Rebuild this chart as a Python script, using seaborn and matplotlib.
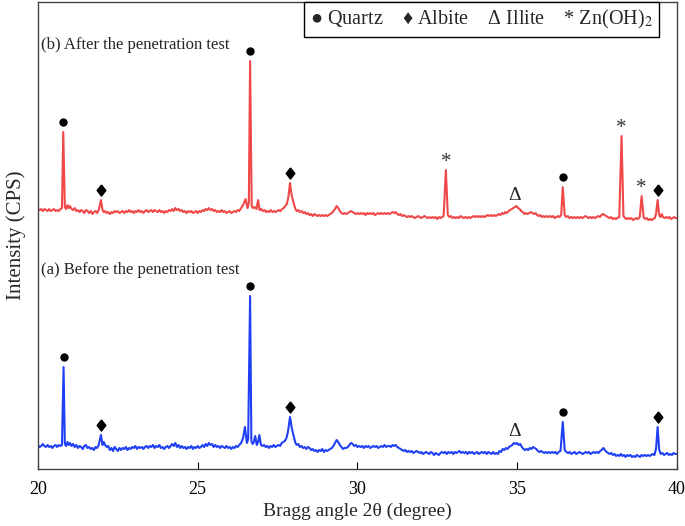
import pandas as pd
import matplotlib
matplotlib.use('Agg')
import matplotlib.pyplot as plt
import seaborn as sns

# Diffractogramme (a) avant l'essai de penetration : (2theta, intensite brute)
before_scan = [
    (20.00, 24), (20.05, 22), (20.10, 23), (20.15, 25), (20.20, 23), (20.25, 22), (20.30, 24), (20.35, 22),
    (20.40, 23), (20.45, 21), (20.50, 23), (20.55, 24), (20.60, 22), (20.65, 24), (20.70, 23), (20.75, 24),
    (20.80, 102), (20.84, 25), (20.88, 23), (20.92, 27), (20.96, 24), (21.00, 26), (21.05, 23), (21.10, 25),
    (21.15, 22), (21.20, 24), (21.25, 21), (21.30, 23), (21.35, 22), (21.40, 20), (21.45, 23), (21.50, 24),
    (21.55, 21), (21.60, 22), (21.65, 20), (21.70, 21), (21.75, 19), (21.80, 22), (21.85, 21), (21.90, 24),
    (21.97, 34), (22.02, 24), (22.06, 27), (22.10, 24), (22.15, 22), (22.20, 23), (22.25, 19), (22.30, 21),
    (22.35, 18), (22.40, 22), (22.45, 20), (22.50, 18), (22.55, 21), (22.60, 19), (22.65, 21), (22.70, 20),
    (22.75, 22), (22.80, 19), (22.85, 21), (22.90, 20), (22.95, 22), (23.00, 21), (23.05, 23), (23.10, 20),
    (23.15, 22), (23.20, 21), (23.25, 22), (23.30, 20), (23.35, 22), (23.40, 23), (23.45, 21), (23.50, 23),
    (23.55, 22), (23.60, 24), (23.65, 21), (23.70, 23), (23.75, 22), (23.80, 24), (23.85, 21), (23.90, 22),
    (23.95, 20), (24.00, 22), (24.05, 23), (24.10, 21), (24.15, 23), (24.20, 25), (24.25, 23), (24.30, 26),
    (24.35, 22), (24.40, 24), (24.45, 21), (24.50, 23), (24.55, 21), (24.60, 22), (24.65, 20), (24.70, 22),
    (24.75, 21), (24.80, 23), (24.85, 20), (24.90, 22), (24.95, 21), (25.00, 23), (25.05, 21), (25.10, 22),
    (25.15, 24), (25.20, 22), (25.25, 25), (25.30, 23), (25.35, 26), (25.40, 24), (25.45, 25), (25.50, 22),
    (25.55, 24), (25.60, 22), (25.65, 23), (25.70, 21), (25.75, 23), (25.80, 22), (25.85, 21), (25.90, 23),
    (25.95, 21), (26.00, 22), (26.05, 20), (26.10, 22), (26.15, 21), (26.20, 23), (26.25, 22), (26.30, 24),
    (26.36, 26), (26.42, 31), (26.48, 42), (26.54, 26), (26.58, 30), (26.64, 173), (26.68, 28), (26.72, 25),
    (26.76, 27), (26.80, 33), (26.85, 24), (26.89, 27), (26.93, 34), (26.98, 24), (27.03, 23), (27.08, 24),
    (27.13, 22), (27.18, 23), (27.23, 21), (27.28, 23), (27.33, 22), (27.38, 24), (27.43, 22), (27.48, 23),
    (27.53, 24), (27.58, 23), (27.63, 26), (27.68, 27), (27.73, 28), (27.78, 31), (27.83, 38), (27.89, 52),
    (27.94, 42), (27.98, 36), (28.02, 31), (28.06, 26), (28.10, 24), (28.15, 25), (28.20, 22), (28.25, 23),
    (28.30, 21), (28.35, 22), (28.40, 20), (28.45, 22), (28.50, 21), (28.55, 19), (28.60, 20), (28.65, 18),
    (28.70, 19), (28.75, 17), (28.80, 19), (28.85, 18), (28.90, 20), (28.95, 17), (29.00, 19), (29.05, 18),
    (29.10, 19), (29.15, 20), (29.20, 21), (29.25, 23), (29.30, 26), (29.35, 29), (29.40, 27), (29.45, 24),
    (29.50, 22), (29.55, 20), (29.60, 21), (29.65, 21), (29.70, 22), (29.75, 24), (29.80, 26), (29.85, 25),
    (29.90, 23), (29.95, 24), (30.00, 22), (30.05, 23), (30.10, 22), (30.15, 23), (30.20, 21), (30.25, 23),
    (30.30, 22), (30.35, 23), (30.40, 21), (30.45, 22), (30.50, 23), (30.55, 22), (30.60, 23), (30.65, 21),
    (30.70, 22), (30.75, 23), (30.80, 22), (30.85, 24), (30.90, 22), (30.95, 23), (31.00, 23), (31.05, 22),
    (31.10, 24), (31.15, 23), (31.20, 24), (31.25, 22), (31.30, 21), (31.35, 20), (31.40, 19), (31.45, 18),
    (31.50, 19), (31.55, 17), (31.60, 18), (31.65, 17), (31.70, 18), (31.75, 16), (31.80, 17), (31.85, 18),
    (31.90, 17), (31.95, 16), (32.00, 17), (32.05, 15), (32.10, 16), (32.15, 17), (32.20, 16), (32.25, 15),
    (32.30, 17), (32.35, 16), (32.40, 14), (32.45, 16), (32.50, 15), (32.55, 14), (32.60, 16), (32.65, 17),
    (32.70, 16), (32.75, 17), (32.80, 15), (32.85, 17), (32.90, 16), (32.95, 17), (33.00, 15), (33.05, 17),
    (33.10, 16), (33.15, 17), (33.20, 18), (33.25, 16), (33.30, 17), (33.35, 16), (33.40, 17), (33.45, 15),
    (33.50, 17), (33.55, 16), (33.60, 17), (33.65, 15), (33.70, 16), (33.75, 17), (33.80, 15), (33.85, 16),
    (33.90, 17), (33.95, 16), (34.00, 17), (34.05, 15), (34.10, 17), (34.15, 16), (34.20, 15), (34.25, 17),
    (34.30, 15), (34.35, 16), (34.40, 15), (34.45, 18), (34.50, 17), (34.55, 20), (34.60, 19), (34.65, 21),
    (34.70, 20), (34.75, 22), (34.80, 23), (34.85, 24), (34.90, 26), (34.95, 25), (35.00, 26), (35.05, 24),
    (35.10, 25), (35.15, 22), (35.20, 20), (35.25, 19), (35.30, 20), (35.35, 19), (35.40, 21), (35.45, 20),
    (35.50, 22), (35.55, 21), (35.60, 20), (35.65, 18), (35.70, 17), (35.75, 18), (35.80, 17), (35.85, 16),
    (35.90, 17), (35.95, 16), (36.00, 17), (36.05, 16), (36.10, 17), (36.15, 16), (36.20, 17), (36.25, 15),
    (36.30, 17), (36.36, 18), (36.43, 47), (36.49, 19), (36.54, 17), (36.60, 16), (36.65, 17), (36.70, 15),
    (36.75, 16), (36.80, 17), (36.85, 15), (36.90, 16), (36.95, 17), (37.00, 16), (37.05, 15), (37.10, 16),
    (37.15, 17), (37.20, 16), (37.25, 17), (37.30, 15), (37.35, 16), (37.40, 17), (37.45, 16), (37.50, 17),
    (37.55, 16), (37.60, 18), (37.65, 19), (37.70, 21), (37.75, 19), (37.80, 17), (37.85, 16), (37.90, 15),
    (37.95, 16), (38.00, 14), (38.05, 15), (38.10, 13), (38.15, 14), (38.20, 13), (38.25, 15), (38.30, 13),
    (38.35, 14), (38.40, 12), (38.45, 14), (38.50, 13), (38.55, 14), (38.60, 12), (38.65, 13), (38.70, 12),
    (38.75, 14), (38.80, 13), (38.85, 12), (38.90, 14), (38.95, 13), (39.00, 14), (39.05, 13), (39.10, 14),
    (39.15, 13), (39.20, 14), (39.25, 15), (39.30, 14), (39.35, 20), (39.40, 42), (39.45, 19), (39.50, 15),
    (39.55, 16), (39.60, 14), (39.65, 15), (39.70, 16), (39.75, 14), (39.80, 15), (39.85, 14), (39.90, 16),
    (39.95, 15), (40.00, 15),
]

# Diffractogramme (b) apres l'essai de penetration : (2theta, intensite brute)
after_scan = [
    (20.00, 24), (20.05, 23), (20.10, 24), (20.15, 22), (20.20, 24), (20.25, 23), (20.30, 22), (20.35, 24),
    (20.40, 22), (20.45, 23), (20.50, 24), (20.55, 22), (20.60, 23), (20.65, 22), (20.70, 24), (20.75, 25),
    (20.79, 101), (20.84, 26), (20.88, 24), (20.92, 28), (20.96, 25), (21.00, 27), (21.05, 24), (21.10, 23),
    (21.15, 25), (21.20, 22), (21.25, 23), (21.30, 21), (21.35, 23), (21.40, 22), (21.45, 20), (21.50, 23),
    (21.55, 22), (21.60, 20), (21.65, 22), (21.70, 19), (21.75, 21), (21.80, 22), (21.85, 20), (21.90, 23),
    (21.97, 33), (22.02, 23), (22.06, 21), (22.10, 22), (22.15, 20), (22.20, 21), (22.25, 19), (22.30, 21),
    (22.35, 20), (22.40, 22), (22.45, 21), (22.50, 22), (22.55, 20), (22.60, 21), (22.65, 22), (22.70, 20),
    (22.75, 22), (22.80, 21), (22.85, 23), (22.90, 21), (22.95, 22), (23.00, 20), (23.05, 22), (23.10, 21),
    (23.15, 23), (23.20, 21), (23.25, 22), (23.30, 20), (23.35, 22), (23.40, 23), (23.45, 21), (23.50, 22),
    (23.55, 23), (23.60, 21), (23.65, 23), (23.70, 22), (23.75, 21), (23.80, 23), (23.85, 21), (23.90, 22),
    (23.95, 20), (24.00, 22), (24.05, 21), (24.10, 23), (24.15, 22), (24.20, 24), (24.25, 22), (24.30, 25),
    (24.35, 23), (24.40, 24), (24.45, 22), (24.50, 23), (24.55, 21), (24.60, 22), (24.65, 20), (24.70, 22),
    (24.75, 21), (24.80, 22), (24.85, 20), (24.90, 21), (24.95, 22), (25.00, 20), (25.05, 22), (25.10, 21),
    (25.15, 23), (25.20, 22), (25.25, 24), (25.30, 23), (25.35, 25), (25.40, 23), (25.45, 24), (25.50, 22),
    (25.55, 23), (25.60, 21), (25.65, 22), (25.70, 21), (25.75, 23), (25.80, 21), (25.85, 22), (25.90, 20),
    (25.95, 21), (26.00, 22), (26.05, 20), (26.10, 21), (26.15, 22), (26.20, 21), (26.25, 23), (26.30, 22),
    (26.36, 25), (26.42, 28), (26.50, 34), (26.56, 25), (26.60, 30), (26.64, 172), (26.69, 27), (26.73, 25),
    (26.78, 26), (26.84, 24), (26.89, 33), (26.94, 23), (26.99, 24), (27.04, 22), (27.09, 23), (27.14, 21),
    (27.19, 22), (27.24, 21), (27.29, 23), (27.34, 21), (27.39, 22), (27.44, 21), (27.49, 22), (27.54, 23),
    (27.59, 22), (27.64, 24), (27.69, 25), (27.74, 27), (27.79, 29), (27.84, 36), (27.89, 50), (27.94, 38),
    (27.98, 33), (28.02, 28), (28.06, 24), (28.10, 22), (28.15, 23), (28.20, 21), (28.25, 22), (28.30, 20),
    (28.35, 21), (28.40, 19), (28.45, 20), (28.50, 18), (28.55, 19), (28.60, 17), (28.65, 19), (28.70, 18),
    (28.75, 17), (28.80, 18), (28.85, 17), (28.90, 18), (28.95, 17), (29.00, 18), (29.05, 17), (29.10, 18),
    (29.15, 19), (29.20, 20), (29.25, 22), (29.30, 24), (29.35, 27), (29.40, 25), (29.45, 22), (29.50, 20),
    (29.55, 19), (29.60, 20), (29.65, 19), (29.70, 20), (29.75, 21), (29.80, 22), (29.85, 21), (29.90, 20),
    (29.95, 19), (30.00, 20), (30.05, 19), (30.10, 20), (30.15, 19), (30.20, 20), (30.25, 18), (30.30, 20),
    (30.35, 19), (30.40, 20), (30.45, 19), (30.50, 20), (30.55, 18), (30.60, 19), (30.65, 20), (30.70, 19),
    (30.75, 20), (30.80, 19), (30.85, 20), (30.90, 19), (30.95, 20), (31.00, 19), (31.05, 20), (31.10, 21),
    (31.15, 20), (31.20, 21), (31.25, 19), (31.30, 18), (31.35, 19), (31.40, 17), (31.45, 18), (31.50, 17),
    (31.55, 16), (31.60, 17), (31.65, 16), (31.70, 17), (31.75, 16), (31.80, 15), (31.85, 16), (31.90, 17),
    (31.95, 16), (32.00, 15), (32.05, 16), (32.10, 17), (32.15, 16), (32.20, 15), (32.25, 16), (32.30, 15),
    (32.35, 16), (32.40, 15), (32.45, 16), (32.50, 14), (32.55, 16), (32.60, 15), (32.65, 16), (32.70, 17),
    (32.77, 63), (32.83, 18), (32.88, 16), (32.93, 17), (32.98, 15), (33.03, 16), (33.08, 15), (33.13, 16),
    (33.18, 15), (33.23, 17), (33.28, 16), (33.33, 15), (33.38, 16), (33.43, 15), (33.48, 16), (33.53, 15),
    (33.58, 16), (33.63, 17), (33.68, 16), (33.73, 17), (33.78, 16), (33.83, 17), (33.88, 16), (33.93, 17),
    (33.98, 16), (34.03, 17), (34.08, 18), (34.13, 17), (34.18, 18), (34.23, 17), (34.28, 18), (34.33, 17),
    (34.38, 18), (34.43, 19), (34.48, 18), (34.53, 20), (34.58, 19), (34.63, 21), (34.68, 20), (34.73, 22),
    (34.78, 23), (34.83, 24), (34.88, 25), (34.93, 26), (34.98, 27), (35.03, 25), (35.08, 24), (35.13, 22),
    (35.18, 21), (35.23, 19), (35.28, 20), (35.33, 19), (35.38, 20), (35.43, 21), (35.48, 20), (35.53, 19),
    (35.58, 20), (35.63, 18), (35.68, 17), (35.73, 18), (35.78, 16), (35.83, 17), (35.88, 16), (35.93, 17),
    (35.98, 16), (36.03, 17), (36.08, 16), (36.13, 17), (36.18, 15), (36.23, 16), (36.28, 17), (36.33, 16),
    (36.38, 18), (36.43, 46), (36.49, 18), (36.54, 16), (36.59, 17), (36.64, 15), (36.69, 16), (36.74, 15),
    (36.79, 16), (36.84, 15), (36.89, 16), (36.94, 15), (36.99, 16), (37.04, 15), (37.09, 16), (37.14, 17),
    (37.19, 16), (37.24, 15), (37.29, 16), (37.34, 15), (37.39, 16), (37.44, 15), (37.49, 16), (37.54, 17),
    (37.59, 16), (37.64, 18), (37.69, 19), (37.74, 18), (37.79, 17), (37.84, 16), (37.89, 15), (37.94, 16),
    (37.99, 14), (38.04, 15), (38.09, 14), (38.14, 15), (38.20, 16), (38.27, 97), (38.33, 17), (38.38, 15),
    (38.43, 14), (38.48, 15), (38.53, 14), (38.58, 15), (38.63, 13), (38.68, 14), (38.73, 15), (38.78, 14),
    (38.84, 16), (38.90, 37), (38.96, 16), (39.01, 14), (39.06, 15), (39.11, 13), (39.16, 14), (39.21, 13),
    (39.26, 14), (39.31, 15), (39.35, 19), (39.40, 33), (39.45, 18), (39.49, 16), (39.53, 19), (39.57, 16),
    (39.62, 15), (39.67, 16), (39.72, 15), (39.77, 16), (39.82, 14), (39.87, 15), (39.92, 16), (39.96, 15),
    (40.00, 15),
]
after_offset = 236  # decalage vertical de la courbe (b)

# Phases identifiees sur chaque diffractogramme
before_phases = [(20.80, 'Quartz'), (21.97, 'Albite'), (26.64, 'Quartz'), (27.89, 'Albite'),
                 (34.93, 'Illite'), (36.43, 'Quartz'), (39.40, 'Albite')]
after_phases = [(20.79, 'Quartz'), (21.97, 'Albite'), (26.64, 'Quartz'), (27.89, 'Albite'),
                (32.77, 'Zn(OH)2'), (34.93, 'Illite'), (36.43, 'Quartz'), (38.27, 'Zn(OH)2'),
                (38.90, 'Zn(OH)2'), (39.40, 'Albite')]

before_df = pd.DataFrame(before_scan, columns=['angle', 'intensity'])
before_df['sample'] = 'before'
after_df = pd.DataFrame(after_scan, columns=['angle', 'intensity'])
after_df['intensity'] = after_df['intensity'] + after_offset
after_df['sample'] = 'after'
df = pd.concat([before_df, after_df], ignore_index=True)

sns.set_style('ticks')
plt.rcParams['font.family'] = ['Liberation Serif', 'DejaVu Sans']
plt.rcParams['mathtext.fontset'] = 'stix'

fig = plt.figure(figsize=(6.85, 5.26), dpi=100)
ax = fig.add_axes([0.0555, 0.1084, 0.9325, 0.8876])

sns.lineplot(data=df, x='angle', y='intensity', hue='sample', estimator=None, sort=False,
             palette={'before': '#2040f5', 'after': '#f04848'}, linewidth=1.5, legend=False, ax=ax)

# losange un peu plus haut que large, comme le symbole de l'original
diamond = [(0, 1), (0.78, 0), (0, -1), (-0.78, 0), (0, 1)]


def mark_phases(phases, sample_df):
    for angle, phase in phases:
        # sommet local du pic
        near = sample_df[(sample_df['angle'] - angle).abs() < 0.03]
        top = near['intensity'].max()
        if phase == 'Quartz':
            ax.plot(angle, top + 10, marker='o', color='black', markersize=5, linestyle='none')
        elif phase == 'Albite':
            ax.plot(angle, top + 10, marker=diamond, color='black', markersize=8, linestyle='none')
        elif phase == 'Illite':
            ax.text(angle, top + 12, 'Δ', ha='center', va='center', fontsize=14)
        else:
            ax.text(angle, top + 8, '*', ha='center', va='center', fontsize=15, color='#333333')


mark_phases(before_phases, before_df)
mark_phases(after_phases, after_df)

ax.text(0.004, 0.908, '(b) After the penetration test', transform=ax.transAxes,
        ha='left', va='center', fontsize=12)
ax.text(0.004, 0.426, '(a) Before the penetration test', transform=ax.transAxes,
        ha='left', va='center', fontsize=12)

ax.text(0.694, 0.963, '● Quartz    ♦ Albite    Δ Illite    * Zn(OH)$_2$', transform=ax.transAxes,
        ha='center', va='center', fontsize=14.5,
        bbox=dict(boxstyle='square,pad=0.3', facecolor='white', edgecolor='black', linewidth=1))

ax.set_xlim(20, 40)
ax.set_ylim(0, 467)
ax.set_xticks([20, 25, 30, 35, 40])
ax.set_yticks([])
ax.tick_params(axis='x', direction='in', length=5, pad=9, labelsize=13, colors='black')
ax.set_xlabel('Bragg angle 2θ (degree)', fontsize=14, labelpad=3)
ax.set_ylabel('Intensity (CPS)', fontsize=15, labelpad=9)
for side in ax.spines.values():
    side.set_visible(True)
    side.set_color('#444444')
    side.set_linewidth(1.0)

plt.savefig('out.png', dpi=100)
plt.close()
